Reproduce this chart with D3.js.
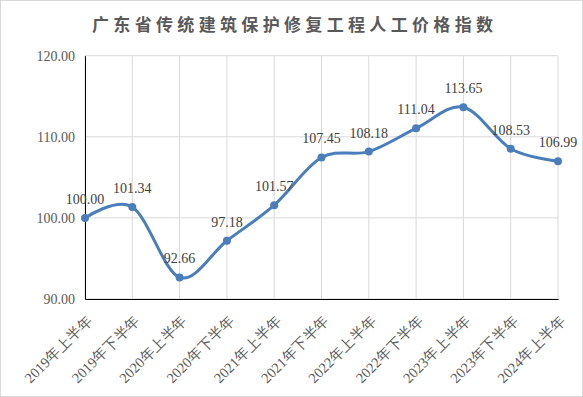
<!DOCTYPE html>
<html><head><meta charset="utf-8">
<script src="https://cdn.jsdelivr.net/npm/d3@7"></script>
<style>body{margin:0;background:#fff}svg{display:block}</style>
</head><body>
<script>
const categories = ["2019年上半年","2019年下半年","2020年上半年","2020年下半年","2021年上半年","2021年下半年","2022年上半年","2022年下半年","2023年上半年","2023年下半年","2024年上半年"];
const values = [100.00,101.34,92.66,97.18,101.57,107.45,108.18,111.04,113.65,108.53,106.99];
const yTicks = [90,100,110,120];
const title = "广东省传统建筑保护修复工程人工价格指数";

const W=583,H=397;
const m={left:85,right:25,top:55.7,bottom:98};
const svg=d3.select("body").append("svg").attr("width",W).attr("height",H);
svg.append("rect").attr("x",0.5).attr("y",0.5).attr("width",W-1).attr("height",H-1).attr("fill","#fff").attr("stroke","#d9d9d9");

const x=d3.scalePoint().domain(categories).range([m.left,W-m.right]);
const y=d3.scaleLinear().domain([90,120]).range([H-m.bottom,m.top]);

svg.append("text").attr("x",92).attr("y",31).attr("text-anchor","start")
 .attr("font-family","'Noto Sans CJK SC'").attr("font-weight","bold").attr("font-size",17)
 .attr("textLength",401).attr("lengthAdjust","spacing").attr("fill","#595959").text(title);

// grid
svg.append("g").selectAll("line").data(yTicks).join("line")
 .attr("x1",m.left).attr("x2",W-m.right).attr("y1",d=>y(d)).attr("y2",d=>y(d)).attr("stroke","#d9d9d9");
svg.append("g").selectAll("line").data(categories).join("line")
 .attr("x1",d=>x(d)).attr("x2",d=>x(d)).attr("y1",m.top).attr("y2",H-m.bottom).attr("stroke","#d9d9d9");

// axes
const ya=svg.append("g").attr("transform",`translate(${m.left},0)`)
 .call(d3.axisLeft(y).tickValues(yTicks).tickFormat(d3.format(".2f")).tickSize(0).tickPadding(10));
ya.select(".domain").attr("stroke","#000");
ya.selectAll("text").attr("font-family","'Liberation Serif'").attr("font-size",14).attr("fill","#595959");

const xa=svg.append("g").attr("transform",`translate(0,${H-m.bottom})`)
 .call(d3.axisBottom(x).tickSize(0).tickFormat(d=>d));
xa.select(".domain").attr("stroke","#000");
xa.selectAll("text").attr("font-family","'Liberation Serif'").attr("font-size",14.5).attr("fill","#595959")
 .attr("text-anchor","end").attr("dy",0).attr("y",0)
 .attr("transform","translate(8,22) rotate(-45)");

const line=d3.line().x((d,i)=>x(categories[i])).y(d=>y(d)).curve(d3.curveCardinal.tension(0));
svg.append("path").datum(values).attr("d",line).attr("fill","none").attr("stroke","#4a7ebb").attr("stroke-width",3);
svg.append("g").selectAll("circle").data(values).join("circle")
 .attr("cx",(d,i)=>x(categories[i])).attr("cy",d=>y(d)).attr("r",4).attr("fill","#4a7ebb");
svg.append("g").selectAll("text").data(values).join("text")
 .attr("x",(d,i)=>x(categories[i])).attr("y",d=>y(d)-14).attr("text-anchor","middle")
 .attr("font-family","'Liberation Serif'").attr("font-size",14).attr("fill","#404040")
 .text(d=>d3.format(".2f")(d));
</script>
</body></html>
